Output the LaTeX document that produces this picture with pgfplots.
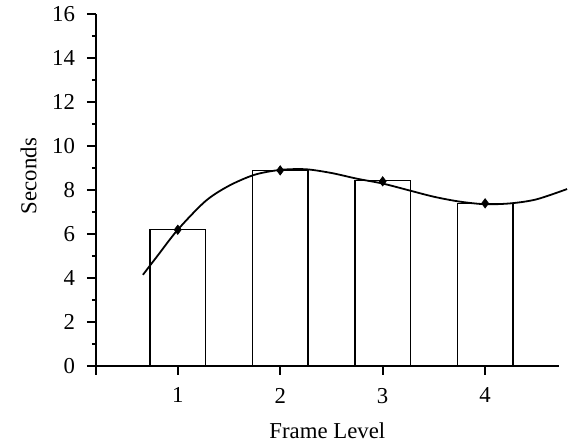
\documentclass[border={7bp 0pt 0pt 0pt}]{standalone}
\usepackage{fontspec}
\setmainfont{Liberation Serif}
\usepackage{pgfplots}
\pgfplotsset{compat=1.18}
\begin{document}
\begin{tikzpicture}
\begin{axis}[
    scale only axis,
    width=233bp, height=177bp,
    xmin=0.2, xmax=4.72,
    ymin=0, ymax=16,
    axis lines*=left,
    axis line style={line width=1bp},
    xtick={1,2,3,4},
    ytick={0,2,...,16},
    minor ytick={1,3,...,15},
    tick align=outside,
    major tick length=4.5bp,
    minor tick length=2bp,
    tick style={line width=0.9bp, black},
    extra x ticks={0.2}, extra x tick labels={},
    font=\fontsize{11.5}{13}\selectfont,
    /pgf/number format/assume math mode=true,
    yticklabel style={xshift=-2.5bp},
    xticklabel style={yshift=-3bp},
    xlabel={Frame Level},
    ylabel={Seconds},
    xlabel shift=-6bp,
    ylabel shift=1bp,
    ylabel style={at={(ticklabel cs:0.54)}},
    clip=false,
]
% bars
\addplot[ybar, bar width=0.54, draw=black, fill=white, line width=0.75bp]
    coordinates {(1,6.2) (2,8.9) (3,8.45) (4,7.4)};
% fitted curve
\addplot[smooth, line width=0.9bp, no marks]
    coordinates {(0.66,4.15) (0.8,5.0) (1,6.2) (1.27,7.5) (1.5,8.2) (1.75,8.7)
                 (2,8.92) (2.25,8.95) (2.5,8.78) (2.75,8.52) (3,8.3) (3.25,8.0)
                 (3.5,7.7) (3.75,7.48) (4,7.36) (4.25,7.4) (4.5,7.58) (4.8,8.05)};
% data points
\addplot[only marks, mark=diamond*, mark size=2.3pt, black]
    coordinates {(1,6.2) (2,8.9) (3,8.4) (4,7.4)};
\end{axis}
\end{tikzpicture}
\end{document}
